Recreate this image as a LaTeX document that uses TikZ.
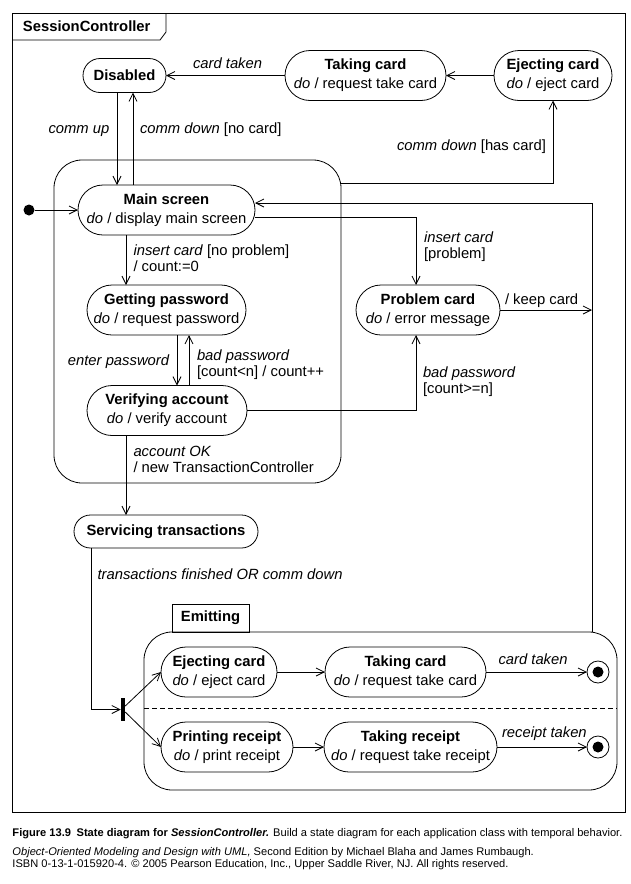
\documentclass[tikz,border=0pt]{standalone}
\usepackage{fontspec}
\setmainfont{Liberation Sans}
\usetikzlibrary{arrows.meta,shapes.misc}
% two-line transition label, baseline at the first line
\newcommand{\twolines}[2]{\begin{tabular}[t]{@{}l@{}}#1\\\relax #2\end{tabular}}
\begin{document}
\begin{tikzpicture}[x=1pt,y=-1pt,
  line width=0.8pt,
  every node/.style={inner sep=0pt, outer sep=0pt},
  state/.style={draw, rounded rectangle, minimum height=50pt, align=center,
    font=\fontsize{14.8}{19}\selectfont},
  lbl/.style={anchor=base west, font=\fontsize{14.8}{16}\selectfont},
  trans/.style={-{Straight Barb[length=8pt,width=8pt]}},
  composite/.style={draw, rounded corners=28pt},
]
\useasboundingbox (0,0) rectangle (630,884);

% outer frame with its name tab
\node[draw, line width=1pt, minimum width=613pt, minimum height=799pt] (frame) at (318.5,412.5) {};
\draw ([yshift=-27pt]frame.north west) -- ++(148,0) -- ++(6,-8) -- ++(0,-19);
\node[anchor=west, font=\fontsize{14.8}{16}\selectfont\bfseries] (fname) at (23,26.5) {SessionController};

% top row
\node[state, minimum width=83pt, minimum height=34pt] (dis) at (124.5,75.5) {\textbf{Disabled}};
\node[state, minimum width=161pt] (tc1) at (365.5,75.5) {\textbf{Taking card}\\\textit{do} / request take card};
\node[state, minimum width=118pt] (ec1) at (553,75.5) {\textbf{Ejecting card}\\\textit{do} / eject card};

% card handling composite
\node[composite, minimum width=287pt, minimum height=323pt] (comp) at (197.5,321.5) {};
\node[circle, fill, minimum size=11pt] (init) at (29,210) {};
\node[state, minimum width=177pt] (ms) at (166.5,210) {\textbf{Main screen}\\\textit{do} / display main screen};
\node[state, minimum width=159pt] (gp) at (166.5,310) {\textbf{Getting password}\\\textit{do} / request password};
\node[state, minimum width=160pt] (va) at (167,410.5) {\textbf{Verifying account}\\\textit{do} / verify account};
\node[state, minimum width=144pt] (pc) at (428,310) {\textbf{Problem card}\\\textit{do} / error message};
\node[state, minimum width=184pt, minimum height=33pt] (st) at (166,531.5) {\textbf{Servicing transactions}};

% emitting composite with two regions
\node[composite, minimum width=473pt, minimum height=158pt] (em) at (380.5,711) {};
\node[draw, minimum width=77pt, minimum height=28pt, font=\fontsize{14.8}{16}\selectfont\bfseries] (emtab) at (210.5,618) {Emitting};
\draw[dashed, dash pattern=on 5pt off 3pt] ([yshift=3pt]em.west) -- ([yshift=3pt]em.east);
\node[fill, minimum width=4.5pt, minimum height=23pt] (fork) at (123,709.5) {};
\node[state, minimum width=116pt] (ec2) at (219,672) {\textbf{Ejecting card}\\\textit{do} / eject card};
\node[state, minimum width=161pt] (tc2) at (405.5,672) {\textbf{Taking card}\\\textit{do} / request take card};
\node[state, minimum width=132pt] (pr) at (227,747) {\textbf{Printing receipt}\\\textit{do} / print receipt};
\node[state, minimum width=173pt] (tkr) at (410.5,747) {\textbf{Taking receipt}\\\textit{do} / request take receipt};
\node[circle, draw, minimum size=22pt] (f1) at (598,672) {};
\node[circle, fill, minimum size=11pt] (f1dot) at (f1.center) {};
\node[circle, draw, minimum size=22pt] (f2) at (598,747) {};
\node[circle, fill, minimum size=11pt] (f2dot) at (f2.center) {};

% transitions
\draw[trans] (tc1.west) -- (dis.east);
\draw[trans] (ec1.west) -- (tc1.east);
\draw[trans] ([xshift=-7.5pt]dis.south) -- ([xshift=-7.5pt]dis.south |- ms.north);
\draw[trans] ([xshift=8.5pt]dis.south |- ms.north) -- ([xshift=8.5pt]dis.south);
\draw[trans] ([yshift=138.5pt]comp.east) -| (ec1.south);
\draw[trans] (init) -- (ms.west);
\draw[trans] ([xshift=-40.5pt]ms.south) -- ([xshift=-40.5pt]ms.south |- gp.north);
\draw[trans] ([xshift=10.5pt]gp.south) -- ([xshift=10.5pt]gp.south |- va.north);
\draw[trans] ([xshift=22.5pt]gp.south |- va.north) -- ([xshift=22.5pt]gp.south);
\draw[trans] ([yshift=-7pt]ms.east) -| ([xshift=-12pt]pc.north);
\draw[trans] (va.east) -| ([xshift=-12pt]pc.south);
\coordinate (ret) at ([xshift=211.5pt]em.north);
\draw[trans] (ret) |- ([yshift=7pt]ms.east);
\draw[trans] (pc.east) -- (pc.east -| ret);
\draw[trans] ([xshift=-41pt]va.south) -- ([xshift=-41pt]va.south |- st.north);
\draw[trans] ([xshift=-75pt]st.south) |- (fork.west);
\draw[trans] ([yshift=3.5pt]fork.east) -- (ec2.west);
\draw[trans] ([yshift=-2.5pt]fork.east) -- (pr.west);
\draw[trans] (ec2.east) -- (tc2.west);
\draw[trans] (tc2.east) -- (f1.west);
\draw[trans] (pr.east) -- (tkr.west);
\draw[trans] (tkr.east) -- (f2.west);

% transition labels
\node[lbl] (l1) at (193,68) {\textit{card taken}};
\node[lbl] (l2) at (48.5,133) {\textit{comm up}};
\node[lbl] (l3) at (140,133) {\textit{comm down} [no card]};
\node[lbl] (l4) at (397,150.5) {\textit{comm down} [has card]};
\node[lbl] (l5) at (133.5,255.5) {\twolines{\textit{insert card} [no problem]}{/ count:=0}};
\node[lbl, anchor=base east] (l6) at (169.5,365.5) {\textit{enter password}};
\node[lbl] (l7) at (197,360.5) {\twolines{\textit{bad password}}{[count<n] / count++}};
\node[lbl] (l8) at (133.5,456) {\twolines{\textit{account OK}}{/ new TransactionController}};
\node[lbl] (l9) at (424,242.5) {\twolines{\textit{insert card}}{[problem]}};
\node[lbl] (l10) at (505,304) {/ keep card};
\node[lbl] (l11) at (423,377) {\twolines{\textit{bad password}}{[count>=n]}};
\node[lbl] (l12) at (97.5,579) {\textit{transactions finished OR comm down}};
\node[lbl] (l13) at (498.5,664) {\textit{card taken}};
\node[lbl] (l14) at (502,737) {\textit{receipt taken}};

% caption
\node[anchor=base west, font=\fontsize{11.1}{11.6}\selectfont] (cap1) at (12.5,836.5)
  {\textbf{Figure 13.9\enspace State diagram for \textit{SessionController.}} Build a state diagram for each application class with temporal behavior.};
\node[anchor=base west, font=\fontsize{11.1}{11.6}\selectfont] (cap2) at (12.5,855.5)
  {\textit{Object-Oriented Modeling and Design with UML,} Second Edition by Michael Blaha and James Rumbaugh.};
\node[anchor=base west, font=\fontsize{11.1}{11.6}\selectfont] (cap3) at (12.5,867.3)
  {ISBN 0-13-1-015920-4. © 2005 Pearson Education, Inc., Upper Saddle River, NJ. All rights reserved.};
\end{tikzpicture}
\end{document}
